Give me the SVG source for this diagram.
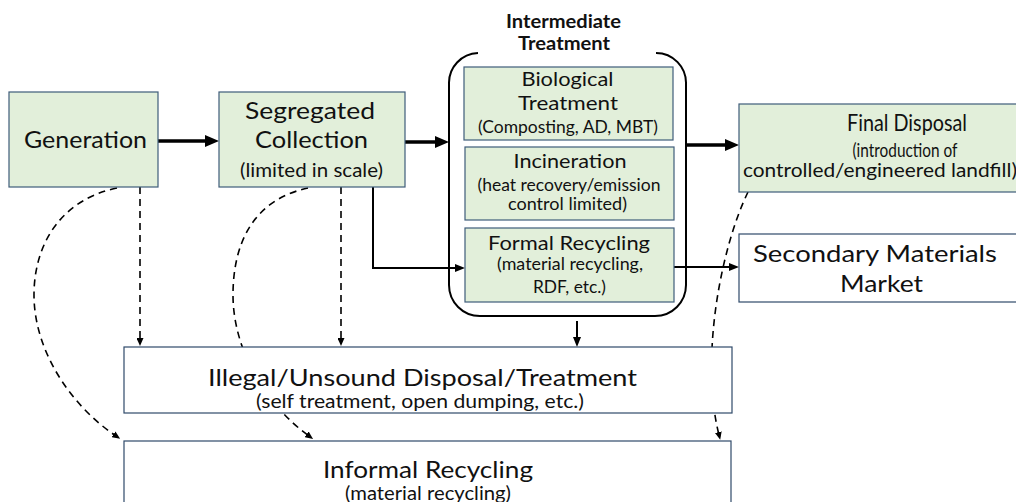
<svg xmlns="http://www.w3.org/2000/svg" width="1016" height="502" viewBox="0 0 1016 502">
  <defs>
    <style>
      .box { fill: #E2EFDA; stroke: #3E5C7A; stroke-width: 1.2; }
      .wbox { fill: #FFFFFF; stroke: #2F4A6A; stroke-width: 1.2; }
      text { font-family: Lato, "Liberation Sans", sans-serif; fill: #111111; text-anchor: middle; }
      .big { font-size: 23px; }
      .mid { font-size: 20px; }
      .small { font-size: 17px; }
      .note { font-size: 18.5px; }
      .title { font-size: 18px; font-weight: bold; }
      .thick { stroke: #000; stroke-width: 3.5; fill: none; }
      .thin { stroke: #000; stroke-width: 2; fill: none; }
      .dash { stroke: #000; stroke-width: 1.6; fill: none; stroke-dasharray: 7 5; }
    </style>
    <marker id="headThick" markerUnits="userSpaceOnUse" markerWidth="14" markerHeight="12" refX="5" refY="6" orient="auto">
      <path d="M0,0 L14,6 L0,12 z" fill="#000"/>
    </marker>
    <marker id="headThin" markerUnits="userSpaceOnUse" markerWidth="10" markerHeight="8" refX="4" refY="4" orient="auto">
      <path d="M0,0 L10,4 L0,8 z" fill="#000"/>
    </marker>
    <marker id="headDash" markerUnits="userSpaceOnUse" markerWidth="8" markerHeight="7" refX="3" refY="3.5" orient="auto">
      <path d="M0,0 L8,3.5 L0,7 z" fill="#000"/>
    </marker>
  </defs>

  <!-- connectors (drawn first so the boxes cover lines that pass behind them) -->
  <g id="connectors">
    <!-- main flow -->
    <line class="thick" x1="158" y1="141" x2="210" y2="141" marker-end="url(#headThick)"/>
    <line class="thick" x1="405" y1="142" x2="440" y2="142" marker-end="url(#headThick)"/>
    <line class="thick" x1="686" y1="145" x2="730" y2="145" marker-end="url(#headThick)"/>
    <!-- collection to formal recycling -->
    <polyline class="thin" points="373,187 373,268 459,268" marker-end="url(#headThin)"/>
    <!-- formal recycling to market -->
    <line class="thin" x1="674" y1="267" x2="733" y2="267" marker-end="url(#headThin)"/>
    <!-- intermediate treatment down to illegal disposal -->
    <line class="thin" x1="577" y1="321" x2="577" y2="341" marker-end="url(#headThin)"/>
    <!-- dashed leakage flows -->
    <line class="dash" x1="140" y1="187" x2="140" y2="341" marker-end="url(#headDash)"/>
    <line class="dash" x1="341" y1="187" x2="341" y2="341" marker-end="url(#headDash)"/>
    <path class="dash" d="M117,188 C60,200 34,245 34,295 C34,350 70,405 116,436" marker-end="url(#headDash)"/>
    <path class="dash" d="M308,188 C252,200 233,245 233,295 C233,350 266,405 309,436" marker-end="url(#headDash)"/>
    <path class="dash" d="M748,192 C720,250 700,360 719,435" marker-end="url(#headDash)"/>
  </g>

  <g id="generation">
    <rect class="box" x="9" y="92" width="149" height="95"/>
    <text class="big" x="85.5" y="148" textLength="123" lengthAdjust="spacingAndGlyphs">Generation</text>
  </g>

  <g id="segregated-collection">
    <rect class="box" x="219" y="92" width="186" height="95"/>
    <text class="big" x="310" y="119" textLength="130" lengthAdjust="spacingAndGlyphs">Segregated</text>
    <text class="big" x="311.5" y="148" textLength="113" lengthAdjust="spacingAndGlyphs">Collection</text>
    <text class="note" x="311.5" y="177" textLength="143" lengthAdjust="spacingAndGlyphs">(limited in scale)</text>
  </g>

  <g id="intermediate-treatment">
    <path d="M478,53 A30,30 0 0 0 449,84 L449,285 A31,31 0 0 0 480,316 L655,316 A31,31 0 0 0 686,285 L686,84 A30,30 0 0 0 656,53" fill="none" stroke="#000" stroke-width="2"/>
    <text class="title" x="563.5" y="28" textLength="115" lengthAdjust="spacingAndGlyphs">Intermediate</text>
    <text class="title" x="564" y="50" textLength="92" lengthAdjust="spacingAndGlyphs">Treatment</text>
  </g>

  <g id="biological-treatment">
    <rect class="box" x="464" y="67" width="209" height="73"/>
    <text class="mid" x="567.5" y="86" textLength="92" lengthAdjust="spacingAndGlyphs">Biological</text>
    <text class="mid" x="568" y="110" textLength="100" lengthAdjust="spacingAndGlyphs">Treatment</text>
    <text class="small" x="568" y="133" textLength="180" lengthAdjust="spacingAndGlyphs">(Composting, AD, MBT)</text>
  </g>

  <g id="incineration">
    <rect class="box" x="465" y="147" width="209" height="73"/>
    <text class="mid" x="570" y="168" textLength="113" lengthAdjust="spacingAndGlyphs">Incineration</text>
    <text class="small" x="569" y="191" textLength="183" lengthAdjust="spacingAndGlyphs">(heat recovery/emission</text>
    <text class="small" x="567.5" y="210" textLength="119" lengthAdjust="spacingAndGlyphs">control limited)</text>
  </g>

  <g id="formal-recycling">
    <rect class="box" x="465" y="228" width="209" height="74"/>
    <text class="mid" x="569" y="250" textLength="162" lengthAdjust="spacingAndGlyphs">Formal Recycling</text>
    <text class="small" x="570" y="270" textLength="146" lengthAdjust="spacingAndGlyphs">(material recycling,</text>
    <text class="small" x="569.5" y="293" textLength="73" lengthAdjust="spacingAndGlyphs">RDF, etc.)</text>
  </g>

  <g id="final-disposal">
    <rect class="box" x="739" y="104" width="334" height="88"/>
    <text class="big" x="907" y="131" textLength="120" lengthAdjust="spacingAndGlyphs">Final Disposal</text>
    <text class="note" x="905" y="157" textLength="105" lengthAdjust="spacingAndGlyphs">(introduction of</text>
    <text class="note" x="743" y="177" style="text-anchor:start" textLength="274" lengthAdjust="spacingAndGlyphs">controlled/engineered landfill)</text>
  </g>

  <g id="secondary-materials-market">
    <rect class="wbox" x="739" y="234" width="290" height="68"/>
    <text class="big" x="875" y="262" style="font-size:24px" textLength="244" lengthAdjust="spacingAndGlyphs">Secondary Materials</text>
    <text class="big" x="881.5" y="292" style="font-size:24px" textLength="83" lengthAdjust="spacingAndGlyphs">Market</text>
  </g>

  <g id="illegal-disposal">
    <rect class="wbox" x="124" y="347" width="608" height="66"/>
    <text class="big" x="422.5" y="386" textLength="429" lengthAdjust="spacingAndGlyphs">Illegal/Unsound Disposal/Treatment</text>
    <text class="note" x="420" y="408" textLength="328" lengthAdjust="spacingAndGlyphs">(self treatment, open dumping, etc.)</text>
  </g>

  <g id="informal-recycling">
    <rect class="wbox" x="124" y="441" width="607" height="80"/>
    <text class="big" x="428" y="478" textLength="210" lengthAdjust="spacingAndGlyphs">Informal Recycling</text>
    <text class="note" x="428" y="500" textLength="166" lengthAdjust="spacingAndGlyphs">(material recycling)</text>
  </g>
</svg>
